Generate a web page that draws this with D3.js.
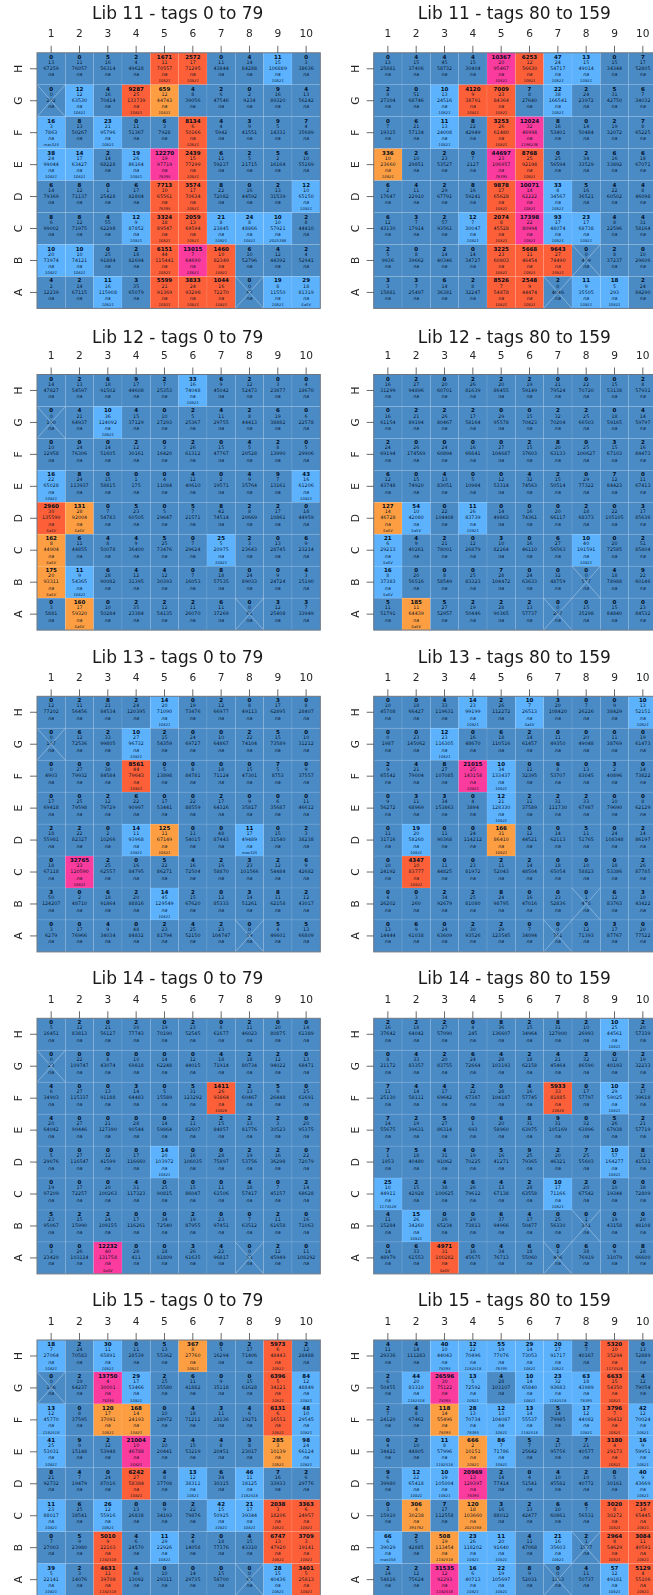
<!DOCTYPE html>
<html><head><meta charset="utf-8">
<script src="https://cdnjs.cloudflare.com/ajax/libs/d3/7.8.5/d3.min.js"></script>
<style>html,body{margin:0;padding:0;background:#fff;overflow:hidden}svg{display:block;filter:blur(.25px)}</style>
</head><body><svg id="c" width="653" height="1595"></svg>
<script>
const rowLabels=["H","G","F","E","D","C","B","A"];
const colLabels=[1,2,3,4,5,6,7,8,9,10];
const defaultLabel="10821";
const crossedLeft=["G1","A8"], crossedRight=["B8","A7"];

const lib11a_counts=[[0,0,5,2,1671,2572,0,4,11,0],[0,12,4,9287,659,4,2,0,9,4],[16,8,23,0,6,8134,4,3,9,7],[38,14,2,19,12270,2439,6,2,5,6],[6,8,0,6,7713,3574,8,0,2,12],[8,8,4,12,3324,2059,21,24,10,2],[10,10,0,2,6151,13015,1460,6,4,2],[4,2,11,3,5599,3833,1044,0,19,29]];
const lib11a_n=[[13,11,16,4,11,17,11,14,15,3],[0,12,16,25,12,8,6,2,16,13],[3,13,21,11,3,6,4,9,5,4],[24,17,14,26,19,15,11,5,2,10],[14,12,1,17,10,17,22,16,13,10],[6,12,55,9,18,13,8,8,10,8],[20,10,25,18,44,7,10,10,12,4],[2,14,16,35,21,24,16,0,8,18]];
const lib11a_total=[[67259,76057,56314,49628,70557,71295,43844,84288,106889,38636],[202,63530,70414,133739,44743,39056,47546,9234,89320,56242],[7863,50267,95796,51367,7928,50166,5942,41551,14331,35689],[99044,63427,68228,86164,97719,77299,59237,21715,16164,55169],[79369,71137,25428,82804,65561,70634,72082,44592,31539,65150],[99002,71975,62298,87852,89547,69594,23845,48866,57921,44410],[73974,74121,91884,82694,115441,64690,82349,52796,44392,52941],[12239,67115,115908,65079,91369,93298,72270,67,11550,81319]];
const lib11a_labels={F1:"mac325",C9:"2025388",E5:"78395",D5:"78395",A10:"SaSV"};

const lib11b_counts=[[0,4,4,4,10367,6253,47,13,0,7],[2,0,10,4120,7009,7,22,2,5,6],[0,6,11,8,3253,12024,8,0,2,7],[336,2,2,0,44697,8768,0,2,6,6],[6,4,2,8,9878,10071,33,5,4,4],[6,3,2,12,2074,17398,93,23,4,4],[2,0,2,0,3225,5668,9643,0,2,0],[3,3,6,2,8526,2548,2,11,18,2]];
const lib11b_n=[[13,15,45,15,20,12,24,15,15,17],[8,51,13,9,23,8,38,24,31,7],[7,21,13,22,26,32,16,14,19,8],[10,10,23,7,23,25,25,34,16,18],[2,11,29,16,17,14,8,16,22,8],[12,7,57,7,8,22,17,17,8,31],[5,8,14,14,23,11,27,0,8,10],[3,7,14,8,7,9,0,9,5,24]];
const lib11b_total=[[25881,37406,58732,30404,95467,56630,54717,49014,34344,52805],[27304,68746,24516,38791,84364,27640,166541,23972,42750,34032],[19315,57134,24008,42949,61480,46998,53401,50484,32072,65225],[23660,29851,53527,2127,106957,92198,56594,33529,33892,67071],[17647,22910,67791,59241,65628,62222,34567,36521,60502,46098],[43130,17914,93561,30047,45528,80994,48074,68738,22596,58164],[9936,39662,40346,34727,60803,46454,74490,409,37237,29606],[15881,25497,36381,32247,54878,44474,4046,35505,293,84290]];
const lib11b_labels={F6:"1196236",E5:"78395"};

const lib12a_counts=[[0,2,6,9,2,33,6,2,0,0],[0,4,10,4,0,2,4,2,6,0],[0,0,0,2,0,2,0,4,2,0],[16,8,0,0,0,4,0,4,9,43],[2960,131,0,5,0,5,8,2,2,0],[162,6,4,4,5,0,25,2,0,6],[175,11,6,4,4,0,8,0,0,4],[0,160,0,2,2,2,6,0,3,3]];
const lib12a_n=[[14,13,18,17,7,16,9,12,3,4],[0,21,36,15,10,5,11,8,19,6],[10,24,14,12,3,26,15,5,8,5],[22,24,15,1,4,12,2,9,7,16],[30,28,7,23,5,7,42,8,17,18],[8,11,8,9,25,7,5,3,13,9],[20,9,28,12,12,7,18,24,9,3],[3,17,10,35,12,11,11,0,12,7]];
const lib12a_total=[[47827,54597,91502,44608,25353,74048,45042,52473,23877,18670],[100,64937,124092,37129,27293,25367,29755,44413,38882,22578],[12958,76306,51605,30161,16420,61312,47767,20528,13990,29906],[65028,113937,58815,175,11084,40610,19571,35764,13161,61206],[135590,92004,54783,60505,29647,21571,74514,20669,10861,44959],[44904,44855,50078,36400,73476,29624,20975,23643,28745,23214],[93311,54365,90082,31395,30393,16053,57535,89033,24724,15190],[5881,59320,50284,23384,54135,26070,37269,61,25408,33949]];
const lib12a_labels={D1:"SaSV",D2:"SaSV",C1:"SaSV",B1:"SaSV",A2:"SaSV"};

const lib12b_counts=[[0,2,0,2,2,2,0,0,0,2],[0,2,2,2,0,0,2,2,0,4],[2,0,0,0,0,2,8,0,3,2],[6,0,4,0,0,4,2,0,7,0],[127,54,0,11,0,0,0,2,0,3],[21,4,2,0,3,0,6,10,0,2],[16,0,0,0,7,0,0,0,4,9],[5,185,5,2,2,2,0,0,0,0]];
const lib12b_n=[[16,27,20,26,20,19,21,22,15,8],[16,21,26,17,29,15,32,25,18,14],[24,26,24,16,27,15,20,25,15,16],[12,15,13,5,12,32,15,29,12,11],[14,10,22,26,14,16,20,18,22,17],[6,9,21,12,10,16,27,40,20,51],[8,20,8,25,28,24,32,0,18,22],[11,11,27,19,28,13,0,15,15,23]];
const lib12b_total=[[31299,94896,60701,81639,86455,59149,79524,70720,53138,57931],[61154,89194,80467,58164,95578,70423,70204,66503,59165,59797],[69194,174569,60894,66641,104687,37603,63133,100627,67103,84473],[43748,74920,83051,10984,53314,74563,50514,77322,84423,67413],[46728,42080,104408,83739,49863,74361,66117,68373,105105,85636],[29213,40261,78001,26879,82264,46110,56563,191591,72585,85804],[37383,56516,58549,83323,104472,63633,48759,577,78988,60146],[51791,64439,52957,50446,90365,57737,207,35298,84840,84532]];
const lib12b_labels={D1:"SaSV",D2:"SaSV",C1:"SaSV",B1:"SaSV",A2:"SaSV"};

const lib13a_counts=[[0,2,8,2,14,0,2,0,3,0],[0,6,2,10,2,0,0,2,5,0],[0,0,0,8561,0,0,0,0,7,0],[0,0,2,6,0,0,2,0,0,0],[2,2,0,14,125,0,0,11,0,2],[0,32765,2,0,5,4,2,3,2,6],[3,0,6,2,14,2,0,3,8,2],[0,0,4,0,2,4,2,0,5,5]];
const lib13a_n=[[12,11,21,24,20,19,12,8,17,8],[0,12,33,27,15,24,10,22,15,10],[0,27,30,44,5,8,18,15,5,9],[17,25,12,22,17,22,17,9,6,11],[18,22,2,11,11,11,48,17,15,3],[18,23,25,16,22,16,16,23,12,9],[50,2,18,20,45,15,12,14,11,12],[3,17,9,48,23,25,23,0,4,13]];
const lib13a_total=[[77202,56456,84534,120395,71090,73476,66977,49113,62895,28407],[107,72536,99805,96732,54359,69727,64867,74104,73589,31212],[4903,79932,84584,79643,13898,84781,71124,47301,8753,37557],[69418,79598,79729,90997,53441,88559,64326,35817,35687,46612],[55981,82327,10266,93968,67149,54015,87443,49489,31540,38238],[67118,120590,62557,84795,86271,72504,58870,101566,54484,42682],[124207,48710,91864,88816,129549,67620,85333,51261,62158,43017],[6279,76966,34034,84832,81794,52150,104747,59,46601,66809]];
const lib13a_labels={D8:"max325"};

const lib13b_counts=[[0,0,4,14,2,10,3,0,0,10],[0,0,12,0,6,2,0,0,0,0],[2,4,8,21015,10,0,6,0,3,0],[0,3,3,0,12,2,2,2,0,0],[0,19,0,0,166,0,0,5,0,2],[0,4347,0,0,2,2,0,0,0,2],[0,0,2,2,8,0,0,0,6,3],[0,6,0,2,2,0,0,0,3,0]];
const lib13b_n=[[10,18,33,23,26,7,20,7,9,13],[0,23,23,16,18,14,11,20,11,19],[9,21,27,25,34,11,8,13,2,14],[9,11,34,4,21,11,31,33,10,8],[11,20,11,24,31,12,14,11,24,14],[10,10,11,23,11,14,18,10,18,26],[4,3,34,25,24,16,23,1,12,10],[13,9,24,30,29,7,0,12,17,20]];
const lib13b_total=[[45708,66427,119631,99199,112272,26513,108420,26226,38429,52151],[1987,145062,116305,48670,110516,61457,49350,49048,38769,61473],[65542,79004,107085,143158,133437,32395,53707,83045,40896,73822],[56272,68969,153863,3894,128330,37589,111730,67987,79690,62129],[31716,58260,90368,114212,86410,44521,62113,51765,108348,86197],[24192,83777,44825,81972,52043,48504,65054,58823,53386,87785],[26202,260,92679,81080,98795,47016,52836,475,83763,43422],[14444,61038,63609,93526,123545,34094,761,71393,87767,77522]];
const lib13b_labels={H6:"SaSV"};

const lib14a_counts=[[0,2,0,2,0,2,0,2,0,0],[0,0,0,0,0,0,4,2,2,0],[4,0,0,3,0,5,1411,2,5,0],[4,0,0,0,0,2,2,2,2,0],[0,0,0,0,14,0,0,2,2,0],[0,0,0,4,0,0,0,4,0,2],[5,2,2,0,0,2,0,0,2,0],[0,0,12232,0,0,3,4,0,2,0]];
const lib14a_n=[[5,12,21,30,19,23,8,11,20,14],[0,22,8,10,14,12,18,18,12,13],[6,27,13,14,5,31,26,13,9,15],[20,27,21,28,14,11,15,13,3,20],[5,27,12,17,20,16,28,19,16,22],[19,17,20,31,25,15,11,18,7,14],[23,15,24,17,34,19,23,7,11,16],[3,26,40,28,18,26,22,0,12,11]];
const lib14a_total=[[16451,83813,56127,77743,70190,52545,61677,46023,80875,61389],[23,109747,43074,69818,62248,44015,71914,80734,94022,68471],[34903,115337,91188,64483,15589,123292,93864,60467,26448,61691],[64042,90446,127390,90544,59864,82607,84857,81776,30523,95375],[29076,116547,41599,116660,103972,106035,75897,53756,36298,72079],[97209,72257,100263,117323,90815,86047,61506,57417,45157,68628],[95067,15990,109155,116261,72540,87955,97451,63512,61658,71063],[23420,103114,131758,411,81809,61635,96817,53,45949,108292]];
const lib14a_labels={F7:"10826",A3:"SaSV"};

const lib14b_counts=[[2,2,2,0,8,2,8,2,10,2],[0,4,2,6,4,2,4,2,0,2],[7,4,4,2,0,4,5933,0,10,2],[7,2,5,0,6,8,9,0,5,2],[7,5,4,0,5,9,2,7,10,8],[25,2,4,6,4,2,10,2,0,0],[4,15,0,0,6,4,0,0,0,0],[0,6,4971,0,4,6,0,6,0,8]];
const lib14b_n=[[16,18,27,4,36,15,31,10,25,20],[8,33,20,24,28,18,21,32,12,19],[11,14,17,22,28,16,33,17,29,17],[14,19,27,1,20,31,31,32,26,21],[1,18,31,19,16,25,20,25,57,12],[10,15,38,26,13,28,17,20,10,38],[11,26,16,29,37,17,25,1,19,20],[14,33,31,16,34,18,1,38,9,28]];
const lib14b_total=[[37642,64042,57090,245,136607,34964,127900,26993,44561,57339],[21172,83357,83755,72664,103193,62158,45464,86590,40193,32233],[25130,58111,69642,67387,104187,57745,81885,57797,59025,39618],[55675,39631,86314,693,58960,63975,105169,63896,67938,57719],[1953,40480,91062,70225,41271,79365,46321,55603,164277,41531],[44911,42928,100625,79612,67138,63558,71166,67542,19344,72809],[15284,34260,65234,73813,94966,50477,56330,341,43158,48108],[48979,61553,100282,45675,76713,55060,406,76919,31079,66600]];
const lib14b_labels={F7:"10826",A3:"SaSV",C1:"1174526"};

const lib15a_counts=[[18,2,30,0,5,367,0,2,5973,2],[0,2,13750,29,2,6,0,0,6396,84],[13,0,120,168,0,4,3,4,6131,48],[41,9,2,21004,2,4,4,3,285,98],[8,4,0,6242,4,13,6,46,7,2],[11,6,26,0,0,2,42,21,2038,3363],[0,5,5010,4,11,2,0,4,6747,3709],[39,2,4631,4,0,0,0,0,28,3401]];
const lib15a_n=[[7,24,11,11,13,8,5,17,6,12],[0,19,4,17,15,11,9,15,5,12],[12,8,17,14,10,18,11,6,6,10],[25,9,12,10,10,15,8,8,3,24],[21,7,24,27,8,12,34,11,16,6],[23,25,12,13,9,22,15,17,3,6],[7,9,9,6,29,4,18,15,13,3],[5,3,11,40,10,14,15,0,15,5]];
const lib15a_total=[[27064,70583,65891,28539,55362,27760,16294,71406,48443,28488],[106,64237,30001,53466,35580,41882,35118,61628,34121,48849],[45770,37595,37091,24193,28972,71211,28136,19271,16551,29545],[53031,15148,53948,46788,20441,53219,20451,23017,10139,66124],[92732,19479,87016,58384,37708,38311,30315,38125,33933,29776],[88017,38541,55916,26838,34193,79876,50925,39344,18206,24957],[27003,23980,22103,24570,22926,14058,77376,43310,47920,19141],[22141,14076,39708,13092,29311,29735,58700,65,40436,25813]];
const lib15a_labels={G3:"78395",F1:"1182518",D8:"1182518",B3:"1182518",A3:"1182518"};

const lib15b_counts=[[4,4,40,12,55,29,20,2,5320,0],[2,44,26596,13,4,10,23,63,6633,4],[2,4,118,28,12,13,5,17,3796,42],[0,2,11,666,86,5,2,7,3180,16],[9,12,10,20969,2,0,4,2,0,40],[0,306,7,120,3,2,6,6,3020,2357],[66,2,508,23,11,4,21,2,2964,3084],[2,2,31535,16,22,8,0,4,57,5129]];
const lib15b_n=[[11,14,10,22,19,14,27,7,10,13],[6,20,30,5,28,14,32,18,15,12],[7,8,14,13,13,14,14,12,7,12],[4,10,8,2,7,7,17,21,4,9],[6,22,19,13,14,4,10,10,5,9],[3,4,17,18,16,13,10,7,8,14],[6,5,19,26,20,11,16,1,8,11],[14,12,12,6,19,9,0,11,12,4]];
const lib15b_total=[[29336,111283,44043,70496,77076,73053,91717,40167,35294,52889],[50455,83310,75122,72592,103107,65840,93683,43989,54350,79054],[24120,67462,55496,70734,104087,55537,79985,44082,36432,70024],[34421,44805,57996,10151,71786,25642,95756,40577,29173,59951],[39980,65418,105004,129397,77414,51541,45582,40772,30161,43669],[15910,30238,112558,103660,88012,42477,60861,56531,30272,65445],[39029,42885,113454,118202,91640,47068,35603,1577,54629,40591],[54816,75624,92293,40713,105697,52031,1153,50737,49181,55106]];
const lib15b_labels={H3:"78395",H4:"1182518",H5:"78395",H9:"1174526",G2:"1182518",G3:"78395",G7:"1182518",G8:"78395",F3:"78395",F4:"78395",F6:"1182518",E3:"1182518",D4:"78395",C2:"394782",C4:"2025388",B1:"max458",B3:"1182518",A3:"1182518"};

const thresholds=[10,100,1000,10000];
const palette=["#4a8bc6","#5cb2fd","#fd9e42","#fd6038","#fb3b9d"];
const panels=[
 ["Lib 11 - tags 0 to 79",0,0,lib11a_counts,lib11a_n,lib11a_total,lib11a_labels],
 ["Lib 11 - tags 80 to 159",1,0,lib11b_counts,lib11b_n,lib11b_total,lib11b_labels],
 ["Lib 12 - tags 0 to 79",0,1,lib12a_counts,lib12a_n,lib12a_total,lib12a_labels],
 ["Lib 12 - tags 80 to 159",1,1,lib12b_counts,lib12b_n,lib12b_total,lib12b_labels],
 ["Lib 13 - tags 0 to 79",0,2,lib13a_counts,lib13a_n,lib13a_total,lib13a_labels],
 ["Lib 13 - tags 80 to 159",1,2,lib13b_counts,lib13b_n,lib13b_total,lib13b_labels],
 ["Lib 14 - tags 0 to 79",0,3,lib14a_counts,lib14a_n,lib14a_total,lib14a_labels],
 ["Lib 14 - tags 80 to 159",1,3,lib14b_counts,lib14b_n,lib14b_total,lib14b_labels],
 ["Lib 15 - tags 0 to 79",0,4,lib15a_counts,lib15a_n,lib15a_total,lib15a_labels],
 ["Lib 15 - tags 80 to 159",1,4,lib15b_counts,lib15b_n,lib15b_total,lib15b_labels]
];

// layout
const lefts=[37,373.7], tops=[52.8,374.5,696.3,1018.3,1340], W=283.3, H=255.6;
const titleY=[13.3,336.7,656.7,977.5,1299.5], labelY=[33,355,677,999,1320.7];
const color=d3.scaleThreshold().domain(thresholds).range(palette);
const x=d3.scaleBand().domain(colLabels).range([0,W]);
const y=d3.scaleBand().domain(rowLabels).range([0,H]);
const svg=d3.select("#c");
const font="'DejaVu Sans',sans-serif";

panels.forEach(([title,side,rowIdx,counts,ns,totals,labels])=>{
  const g=svg.append("g").attr("transform",`translate(${lefts[side]},${tops[rowIdx]})`);
  const crossed=side?crossedRight:crossedLeft;
  const cells=[];
  rowLabels.forEach((r,i)=>colLabels.forEach((c,j)=>{
    cells.push({r,c,count:counts[i][j],n:ns[i][j],total:totals[i][j],
      label:counts[i][j]>=10?(labels[r+c]||defaultLabel):null,
      crossed:crossed.includes(r+c)});
  }));
  const cg=g.selectAll("g.cell").data(cells).join("g").attr("class","cell")
    .attr("transform",d=>`translate(${x(d.c)},${y(d.r)})`);
  cg.append("rect").attr("width",x.bandwidth()).attr("height",y.bandwidth())
    .attr("fill",d=>color(d.count)).attr("stroke","#fff").attr("stroke-opacity",.12).attr("stroke-width",.7);
  const cx=x.bandwidth()/2;
  const line=(cls,dy,size,weight,style,op,fn)=>cg.append("text").attr("class",cls)
    .attr("x",cx).attr("y",dy).attr("text-anchor","middle").attr("dominant-baseline","central")
    .attr("font-family",font).attr("font-size",size).attr("font-weight",weight).attr("font-style",style)
    .attr("fill","#000c1c").attr("fill-opacity",op).text(fn);
  line("cnt",4,5.5,"bold","normal",1,d=>d.count);
  line("n",9.6,4.8,"normal","normal",.95,d=>d.n);
  line("tot",15.6,4.8,"normal","normal",.95,d=>d.total);
  line("na",22,4.8,"normal","italic",.95,()=>"na");
  cg.filter(d=>d.label).append("text").attr("x",cx).attr("y",28.2).attr("text-anchor","middle")
    .attr("dominant-baseline","central").attr("font-family",font).attr("font-size",3.8).attr("font-style","italic")
    .attr("fill","#000c1c").attr("fill-opacity",.95).text(d=>d.label);
  cg.filter(d=>d.crossed).each(function(){
    const s=d3.select(this),w=x.bandwidth(),h=y.bandwidth();
    [[0,0,w,h],[w,0,0,h]].forEach(p=>s.append("line").attr("x1",p[0]).attr("y1",p[1]).attr("x2",p[2]).attr("y2",p[3])
      .attr("stroke","#fff").attr("stroke-opacity",.4).attr("stroke-width",.8));
  });
  g.append("rect").attr("width",W).attr("height",H).attr("fill","none").attr("stroke","#6d7680").attr("stroke-width",1);
  const top=d3.axisTop(x).tickSize(7).tickPadding(0).tickSizeOuter(0);
  const ag=g.append("g").call(top);
  ag.select(".domain").remove();
  ag.selectAll("line").attr("stroke","#444").attr("stroke-width",.8);
  ag.selectAll("text").attr("font-family",font).attr("font-size",10.6).attr("fill","#262626")
    .attr("y",labelY[rowIdx]-tops[rowIdx]).attr("dy",0).attr("dominant-baseline","central");
  const left=d3.axisLeft(y).tickSize(7).tickPadding(0).tickSizeOuter(0);
  const al=g.append("g").call(left);
  al.select(".domain").remove();
  al.selectAll("line").attr("stroke","#444").attr("stroke-width",.8);
  al.selectAll("text").attr("font-family",font).attr("font-size",10.6).attr("fill","#262626")
    .attr("x",0).attr("y",0).attr("dy",0).attr("text-anchor","middle").attr("dominant-baseline","central")
    .attr("transform","translate(-19,0) rotate(-90)");
  svg.append("text").attr("x",lefts[side]+W/2-1).attr("y",titleY[rowIdx])
    .attr("text-anchor","middle").attr("dominant-baseline","central")
    .attr("font-family",font).attr("font-size",17).attr("fill","#1a1a1a").text(title);
});
</script></body></html>
